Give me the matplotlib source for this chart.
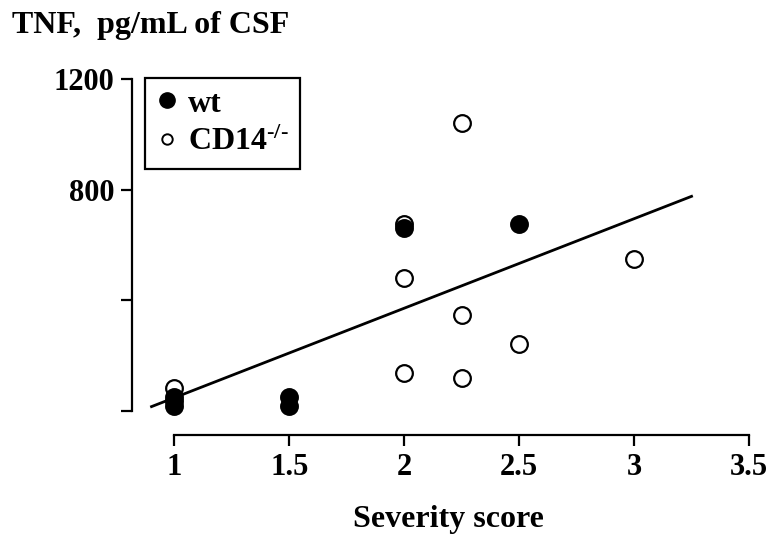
import numpy as np
import matplotlib
matplotlib.use("Agg")
import matplotlib.pyplot as plt
from matplotlib.lines import Line2D

plt.rcParams['font.family'] = ['Liberation Serif', 'DejaVu Serif']
plt.rcParams['font.weight'] = 'bold'
plt.rcParams['mathtext.fontset'] = 'custom'
plt.rcParams['mathtext.rm'] = 'Liberation Serif:bold'
plt.rcParams['mathtext.it'] = 'Liberation Serif:bold'
plt.rcParams['mathtext.bf'] = 'Liberation Serif:bold'

# wild type (filled)
wt_x = [1, 1, 1, 1.5, 1.5, 2, 2.5]
wt_y = [20, 35, 50, 52, 18, 660, 675]

# CD14-/- (open)
ko_x = [1, 2, 2, 2, 2.25, 2.25, 2.25, 2.5, 3]
ko_y = [83, 676, 482, 136, 1040, 347, 118, 241, 549]

# regression line end points
fit_x = [0.9, 3.25]
fit_y = [16, 776]

xticks = [1, 1.5, 2, 2.5, 3, 3.5]
xticklabels = ['1', '1.5', '2', '2.5', '3', '3.5']
yticks = [0, 400, 800, 1200]
yticklabels = ['', '', '800', '1200']

fig = plt.figure(figsize=(7.67, 5.39), dpi=100)
ax = fig.add_axes([0.1725, 0.1929, 0.8190, 0.6759])

ax.plot(fit_x, fit_y, color='black', lw=2, zorder=1)
ax.plot(ko_x, ko_y, 'o', ms=12, mfc='white', mec='black', mew=1.6, zorder=2)
ax.plot(wt_x, wt_y, 'o', ms=12, mfc='black', mec='black', mew=1.6, zorder=3)

ax.set_xlim(0.8164, 3.55)
ax.set_ylim(-86.7, 1230)
ax.spines['top'].set_visible(False)
ax.spines['right'].set_visible(False)
ax.spines['left'].set_bounds(0, 1200)
ax.spines['bottom'].set_bounds(1, 3.5)
for s in ['left', 'bottom']:
    ax.spines[s].set_linewidth(1.6)

ax.set_xticks(xticks)
ax.set_xticklabels(xticklabels)
ax.set_yticks(yticks)
ax.set_yticklabels(yticklabels)
ax.tick_params(axis='both', direction='out', length=8, width=1.6,
               labelsize=22, pad=5)

handles = [
    Line2D([], [], ls='none', marker='o', ms=11, mfc='black', mec='black'),
    Line2D([], [], ls='none', marker='o', ms=7.5, mfc='white', mec='black', mew=1.4),
]
labels = ['wt', r'CD14$^{\text{-/-}}$']
leg = ax.legend(handles, labels, loc='upper left',
                bbox_to_anchor=(145 / 767, 1 - 78 / 539),
                bbox_transform=fig.transFigure, borderaxespad=0,
                fancybox=False, edgecolor='black', fontsize=23,
                handlelength=0.7, handletextpad=0.3, labelspacing=0.3,
                borderpad=0.35)
leg.get_frame().set_linewidth(1.6)
leg.get_frame().set_alpha(1)
for t in leg.get_texts():
    t.set_fontweight('bold')

fig.text(12 / 767, 1 - 33.3 / 539, 'TNF,  pg/mL of CSF', fontsize=23,
         fontweight='bold', va='baseline', ha='left')
fig.text(448 / 767, 1 - 526.7 / 539, 'Severity score', fontsize=23,
         fontweight='bold', va='baseline', ha='center')

fig.savefig('out.png', dpi=100)
